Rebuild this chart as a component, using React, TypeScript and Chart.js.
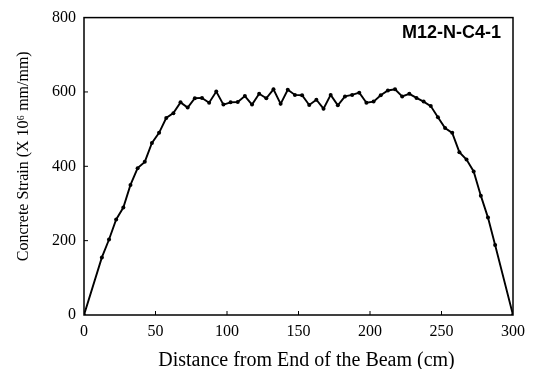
import React, { useEffect, useRef } from "react";
import { Chart, registerables } from "chart.js";

Chart.register(...registerables);

const distances = [
  0, 12.5, 17.5, 22.5, 27.5, 32.5, 37.5, 42.5, 47.5, 52.5, 57.5, 62.5, 67.5, 72.5, 77.5,
  82.5, 87.5, 92.5, 97.5, 102.5, 107.5, 112.5, 117.5, 122.5, 127.5, 132.5, 137.5, 142.5,
  147.5, 152.5, 157.5, 162.5, 167.5, 172.5, 177.5, 182.5, 187.5, 192.5, 197.5, 202.5,
  207.5, 212.5, 217.5, 222.5, 227.5, 232.5, 237.5, 242.5, 247.5, 252.5, 257.5, 262.5,
  267.5, 272.5, 277.5, 282.5, 287.5, 300,
];

const strains = [
  0, 155, 203, 257, 289, 350, 395, 412, 463, 490, 530, 543, 572, 558, 583,
  584, 571, 601, 566, 572, 573, 589, 566, 595, 583, 607, 568, 606,
  592, 591, 565, 579, 555, 592, 564, 588, 592, 598, 571, 574,
  591, 604, 607, 588, 595, 584, 574, 562, 532, 503, 490, 438,
  418, 386, 321, 262, 188, 0,
];

const xTicks = [0, 50, 100, 150, 200, 250, 300];
const yTicks = [0, 200, 400, 600, 800];
const specimenLabel = "M12-N-C4-1";
const xTitle = "Distance from End of the Beam (cm)";
const yTitle = "Concrete Strain (X 10\u2076 mm/mm)";

const serif = "'Liberation Serif', 'Times New Roman', serif";

const framePlugin = {
  id: "frame",
  afterDraw(chart: any) {
    const { ctx, chartArea } = chart;
    const { left, right, top, bottom } = chartArea;
    const xs = chart.scales.x;
    const ys = chart.scales.y;
    ctx.save();
    ctx.strokeStyle = "#000";
    ctx.lineWidth = 1.5;
    ctx.strokeRect(left, top, right - left, bottom - top);
    ctx.lineWidth = 1;
    xTicks.forEach((v) => {
      if (v === 0 || v === 300) return;
      const px = xs.getPixelForValue(v);
      ctx.beginPath();
      ctx.moveTo(px, bottom);
      ctx.lineTo(px, bottom - 4);
      ctx.stroke();
    });
    yTicks.forEach((v) => {
      if (v === 0 || v === 800) return;
      const py = ys.getPixelForValue(v);
      ctx.beginPath();
      ctx.moveTo(left, py);
      ctx.lineTo(left + 4, py);
      ctx.stroke();
    });
    ctx.fillStyle = "#000";
    // specimen label
    ctx.font = "bold 18px 'Liberation Sans', Arial, sans-serif";
    ctx.textAlign = "right";
    ctx.textBaseline = "alphabetic";
    ctx.fillText(specimenLabel, right - 12, top + 20);
    // x axis title
    ctx.font = `20px ${serif}`;
    ctx.textAlign = "center";
    ctx.fillText(xTitle, (left + right) / 2 + 8, 366);
    // y axis title
    ctx.font = `16px ${serif}`;
    ctx.translate(28, (top + bottom) / 2 - 10);
    ctx.rotate(-Math.PI / 2);
    ctx.fillText(yTitle, 0, 0);
    ctx.restore();
  },
};

export default function App() {
  const canvasRef = useRef<HTMLCanvasElement | null>(null);

  useEffect(() => {
    document.body.style.margin = "0";
    const canvas = canvasRef.current;
    if (!canvas) return;
    const points = distances.map((d, i) => ({ x: d, y: strains[i] }));
    const chart = new Chart(canvas, {
      type: "line",
      data: {
        datasets: [
          {
            data: points,
            borderColor: "#000",
            backgroundColor: "#000",
            borderWidth: 1.9,
            pointRadius: 2,
            pointBorderWidth: 0,
            pointBackgroundColor: "#000",
            tension: 0,
          },
        ],
      },
      options: {
        animation: false,
        responsive: false,
        maintainAspectRatio: false,
        layout: { padding: { top: 17, right: 23, left: 0, bottom: 0 } },
        plugins: { legend: { display: false }, tooltip: { enabled: false } },
        scales: {
          x: {
            type: "linear",
            min: 0,
            max: 300,
            afterBuildTicks: (scale: any) => {
              scale.ticks = xTicks.map((v) => ({ value: v }));
            },
            afterFit: (scale: any) => {
              scale.height = 54;
            },
            ticks: {
              color: "#000",
              font: { family: serif, size: 16 },
              padding: 7,
              maxRotation: 0,
            },
            grid: { display: false, drawTicks: false },
            border: { display: false },
            title: { display: false },
          },
          y: {
            min: 0,
            max: 800,
            afterBuildTicks: (scale: any) => {
              scale.ticks = yTicks.map((v) => ({ value: v }));
            },
            afterFit: (scale: any) => {
              scale.width = 84;
            },
            ticks: {
              color: "#000",
              font: { family: serif, size: 16 },
              padding: 8,
            },
            grid: { display: false, drawTicks: false },
            border: { display: false },
            title: { display: false },
          },
        },
      },
      plugins: [framePlugin],
    });
    return () => chart.destroy();
  }, []);

  return (
    <div style={{ width: 536, height: 369, background: "#fff" }}>
      <canvas ref={canvasRef} width={536} height={369} style={{ display: "block" }} />
    </div>
  );
}
